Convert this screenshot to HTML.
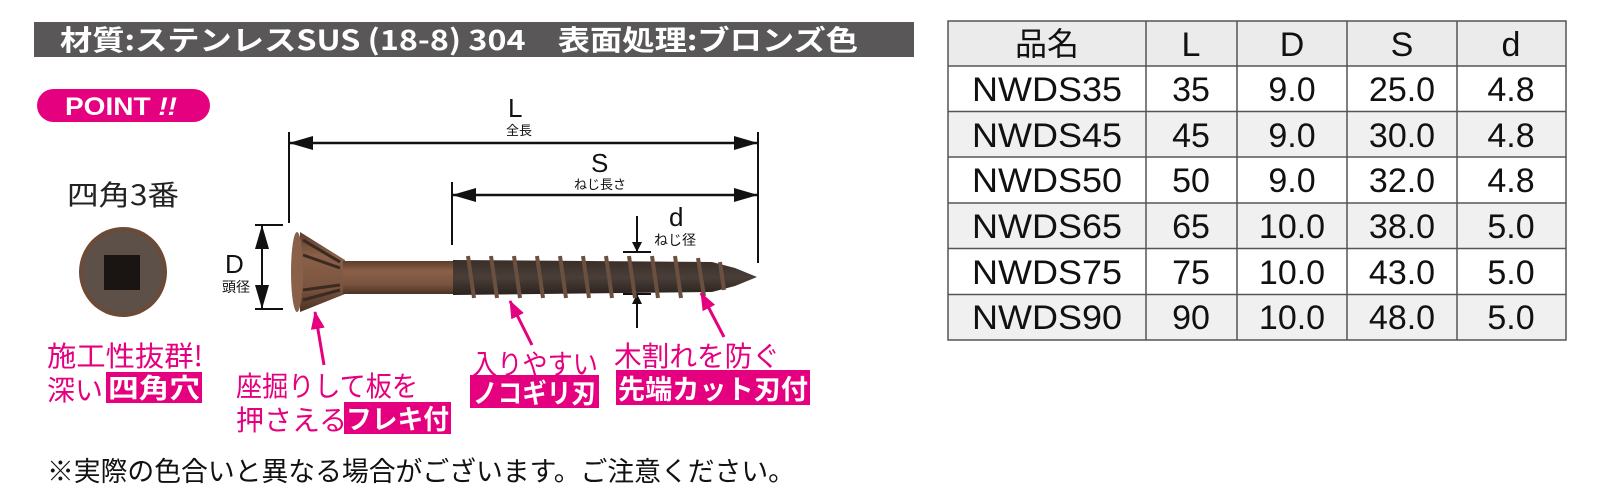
<!DOCTYPE html>
<html><head><meta charset="utf-8"><style>
html,body{margin:0;padding:0;background:#fff;}
svg{display:block;}
text{font-family:"Liberation Sans","Noto Sans CJK JP",sans-serif;}
.j{font-family:"Noto Sans CJK JP","Liberation Sans",sans-serif;}
</style></head><body>
<svg width="1600" height="503" viewBox="0 0 1600 503" xmlns="http://www.w3.org/2000/svg">
<defs>
<marker id="ah" markerWidth="10" markerHeight="10" refX="9" refY="5" orient="auto" markerUnits="userSpaceOnUse"><path d="M0,0 L10,5 L0,10 z" fill="#111"/></marker>
<marker id="big" markerWidth="24" markerHeight="14" refX="23" refY="7" orient="auto" markerUnits="userSpaceOnUse"><path d="M0,0 L24,7 L0,14 z" fill="#111"/></marker>
<marker id="pk" markerWidth="18" markerHeight="14" refX="17" refY="7" orient="auto" markerUnits="userSpaceOnUse"><path d="M0,0 L18,7 L0,14 z" fill="#e4007f"/></marker>
<linearGradient id="sh" x1="0" y1="0" x2="0" y2="1"><stop offset="0" stop-color="#5a3e2c"/><stop offset="0.3" stop-color="#8a6048"/><stop offset="0.7" stop-color="#7a5440"/><stop offset="1" stop-color="#4a3224"/></linearGradient>
<linearGradient id="th" x1="0" y1="0" x2="0" y2="1"><stop offset="0" stop-color="#3a2e28"/><stop offset="0.5" stop-color="#4a3e38"/><stop offset="1" stop-color="#2a221e"/></linearGradient>
</defs>

<!-- header bar -->
<rect x="34" y="22" width="880" height="35" fill="#595757"/>
<text class="j" x="60" y="50" font-size="28" font-weight="bold" fill="#fff" textLength="798" lengthAdjust="spacingAndGlyphs">材質:ステンレスSUS (18-8) 304　表面処理:ブロンズ色</text>

<!-- POINT pill -->
<rect x="37" y="89" width="173" height="33" rx="16.5" fill="#e4007f"/>
<text x="65" y="115" font-size="25" font-weight="bold" fill="#fff" textLength="112" lengthAdjust="spacingAndGlyphs">POINT <tspan font-style="italic">!!</tspan></text>

<text class="j" x="67" y="205" font-size="28" fill="#222" textLength="112" lengthAdjust="spacingAndGlyphs">四角3番</text>

<!-- head top view -->
<ellipse cx="123" cy="272" rx="44" ry="45" fill="#6b4a36"/>
<ellipse cx="123" cy="272" rx="40" ry="41" fill="#5c5048"/>
<rect x="104" y="255" width="36" height="35" fill="#1a1412"/>

<!-- D dimension -->
<text x="225" y="273" font-size="26" fill="#111">D</text>
<text class="j" x="222" y="292" font-size="14" fill="#111">頭径</text>
<line x1="255" y1="225" x2="283" y2="225" stroke="#111" stroke-width="2"/>
<line x1="255" y1="309" x2="283" y2="309" stroke="#111" stroke-width="2"/>
<line x1="262" y1="267" x2="262" y2="226" stroke="#111" stroke-width="2" marker-end="url(#big)"/>
<line x1="262" y1="267" x2="262" y2="308" stroke="#111" stroke-width="2" marker-end="url(#big)"/>

<!-- L dimension -->
<line x1="289" y1="132" x2="289" y2="223" stroke="#111" stroke-width="2"/>
<line x1="758" y1="132" x2="758" y2="263" stroke="#111" stroke-width="2"/>
<line x1="520" y1="143" x2="290" y2="143" stroke="#111" stroke-width="2.5" marker-end="url(#big)"/>
<line x1="520" y1="143" x2="757" y2="143" stroke="#111" stroke-width="2.5" marker-end="url(#big)"/>
<text x="508" y="117" font-size="26" fill="#111">L</text>
<text class="j" x="506" y="135" font-size="13" fill="#111">全長</text>

<!-- S dimension -->
<line x1="452" y1="182" x2="452" y2="245" stroke="#111" stroke-width="2"/>
<line x1="600" y1="195" x2="453" y2="195" stroke="#111" stroke-width="2.5" marker-end="url(#big)"/>
<line x1="600" y1="195" x2="757" y2="195" stroke="#111" stroke-width="2.5" marker-end="url(#big)"/>
<text x="591" y="172" font-size="26" fill="#111">S</text>
<text class="j" x="574" y="189" font-size="13" fill="#111">ねじ長さ</text>

<!-- d dimension -->
<text x="669" y="226" font-size="26" fill="#111">d</text>
<text class="j" x="654" y="245" font-size="14" fill="#111">ねじ径</text>
<line x1="623" y1="252" x2="651" y2="252" stroke="#111" stroke-width="2"/>
<line x1="623" y1="294" x2="651" y2="294" stroke="#111" stroke-width="2"/>
<line x1="637" y1="216" x2="637" y2="251" stroke="#111" stroke-width="2" marker-end="url(#ah)"/>
<line x1="637" y1="328" x2="637" y2="295" stroke="#111" stroke-width="2" marker-end="url(#ah)"/>

<!-- screw -->
<path d="M300,232 L345,260 L345,294 L300,312 Z" fill="url(#sh)"/>
<path d="M303,240 L340,262 M303,255 L340,268 M303,290 L340,285 M303,300 L340,290" stroke="#3a2a20" stroke-width="3"/>
<ellipse cx="297" cy="272" rx="6" ry="40" fill="#8a6048"/>
<rect x="343" y="261" width="112" height="33" fill="url(#sh)"/>
<path d="M453,260 L712,262 L735,268 L757,277 L735,286 L712,292 L453,295 Z" fill="url(#th)"/>
<g stroke="#6b5040" stroke-width="4" fill="none">
<path d="M468,256 L474,298"/><path d="M491,256 L497,298"/><path d="M514,256 L520,298"/><path d="M537,256 L543,298"/><path d="M560,256 L566,298"/><path d="M583,256 L589,298"/><path d="M606,256 L612,298"/><path d="M629,256 L635,298"/><path d="M652,256 L658,298"/><path d="M675,256 L681,298"/><path d="M698,258 L704,296"/><path d="M720,262 L724,290"/>
</g>

<!-- pink arrows -->
<line x1="324" y1="365" x2="315" y2="312" stroke="#e4007f" stroke-width="3" marker-end="url(#pk)"/>
<line x1="532" y1="345" x2="510" y2="301" stroke="#e4007f" stroke-width="3" marker-end="url(#pk)"/>
<line x1="724" y1="337" x2="701" y2="293" stroke="#e4007f" stroke-width="3" marker-end="url(#pk)"/>

<!-- pink labels -->
<g class="j" fill="#e4007f" font-size="28">
<text class="j" x="47" y="366" textLength="156" lengthAdjust="spacingAndGlyphs">施工性抜群!</text>
<text class="j" x="47" y="400">深い</text>
<text class="j" x="236" y="396" textLength="182" lengthAdjust="spacingAndGlyphs">座掘りして板を</text>
<text class="j" x="236" y="430">押さえる</text>
<text class="j" x="472" y="374" textLength="126" lengthAdjust="spacingAndGlyphs">入りやすい</text>
<text class="j" x="614" y="366" textLength="166" lengthAdjust="spacingAndGlyphs">木割れを防ぐ</text>
</g>
<rect x="106" y="372" width="96" height="31" fill="#e4007f"/>
<text class="j" x="108" y="398" font-size="27" font-weight="bold" fill="#fff" textLength="92" lengthAdjust="spacingAndGlyphs">四角穴</text>
<rect x="344" y="402" width="107" height="32" fill="#e4007f"/>
<text class="j" x="346" y="429" font-size="27" font-weight="bold" fill="#fff" textLength="103" lengthAdjust="spacingAndGlyphs">フレキ付</text>
<rect x="470" y="375" width="129" height="33" fill="#e4007f"/>
<text class="j" x="473" y="403" font-size="27" font-weight="bold" fill="#fff" textLength="123" lengthAdjust="spacingAndGlyphs">ノコギリ刃</text>
<rect x="616" y="370" width="194" height="35" fill="#e4007f"/>
<text class="j" x="618" y="399" font-size="27" font-weight="bold" fill="#fff" textLength="190" lengthAdjust="spacingAndGlyphs">先端カット刃付</text>

<!-- footnote -->
<text class="j" x="47" y="481" font-size="27" fill="#111" textLength="748" lengthAdjust="spacingAndGlyphs">※実際の色合いと異なる場合がございます。ご注意ください。</text>

<!-- table -->
<rect x="948" y="21" width="618" height="45" fill="#ebebeb"/>
<rect x="948" y="111.5" width="618" height="45.5" fill="#f0f0f0"/>
<rect x="948" y="203" width="618" height="45.5" fill="#f0f0f0"/>
<rect x="948" y="294.5" width="618" height="45.5" fill="#f0f0f0"/>
<g stroke="#555" stroke-width="1.5" fill="none">
<rect x="948" y="21" width="618" height="319"/>
<line x1="1146" y1="21" x2="1146" y2="340"/><line x1="1237" y1="21" x2="1237" y2="340"/><line x1="1347" y1="21" x2="1347" y2="340"/><line x1="1457" y1="21" x2="1457" y2="340"/>
<line x1="948" y1="66" x2="1566" y2="66"/><line x1="948" y1="111.5" x2="1566" y2="111.5"/><line x1="948" y1="157" x2="1566" y2="157"/><line x1="948" y1="203" x2="1566" y2="203"/><line x1="948" y1="248.5" x2="1566" y2="248.5"/><line x1="948" y1="294.5" x2="1566" y2="294.5"/>
</g>
<g font-size="34" fill="#111" text-anchor="middle">
<text class="j" x="1047" y="55" font-size="32">品名</text><text x="1191" y="56">L</text><text x="1292" y="56">D</text><text x="1402" y="56">S</text><text x="1511" y="56">d</text>
<g font-size="34">
<text x="1047" y="101" textLength="150" lengthAdjust="spacingAndGlyphs">NWDS35</text><text x="1191" y="101">35</text><text x="1292" y="101">9.0</text><text x="1402" y="101">25.0</text><text x="1511" y="101">4.8</text>
<text x="1047" y="147" textLength="150" lengthAdjust="spacingAndGlyphs">NWDS45</text><text x="1191" y="147">45</text><text x="1292" y="147">9.0</text><text x="1402" y="147">30.0</text><text x="1511" y="147">4.8</text>
<text x="1047" y="192" textLength="150" lengthAdjust="spacingAndGlyphs">NWDS50</text><text x="1191" y="192">50</text><text x="1292" y="192">9.0</text><text x="1402" y="192">32.0</text><text x="1511" y="192">4.8</text>
<text x="1047" y="238" textLength="150" lengthAdjust="spacingAndGlyphs">NWDS65</text><text x="1191" y="238">65</text><text x="1292" y="238">10.0</text><text x="1402" y="238">38.0</text><text x="1511" y="238">5.0</text>
<text x="1047" y="284" textLength="150" lengthAdjust="spacingAndGlyphs">NWDS75</text><text x="1191" y="284">75</text><text x="1292" y="284">10.0</text><text x="1402" y="284">43.0</text><text x="1511" y="284">5.0</text>
<text x="1047" y="329" textLength="150" lengthAdjust="spacingAndGlyphs">NWDS90</text><text x="1191" y="329">90</text><text x="1292" y="329">10.0</text><text x="1402" y="329">48.0</text><text x="1511" y="329">5.0</text>
</g>
</g>
</svg>
</body></html>
